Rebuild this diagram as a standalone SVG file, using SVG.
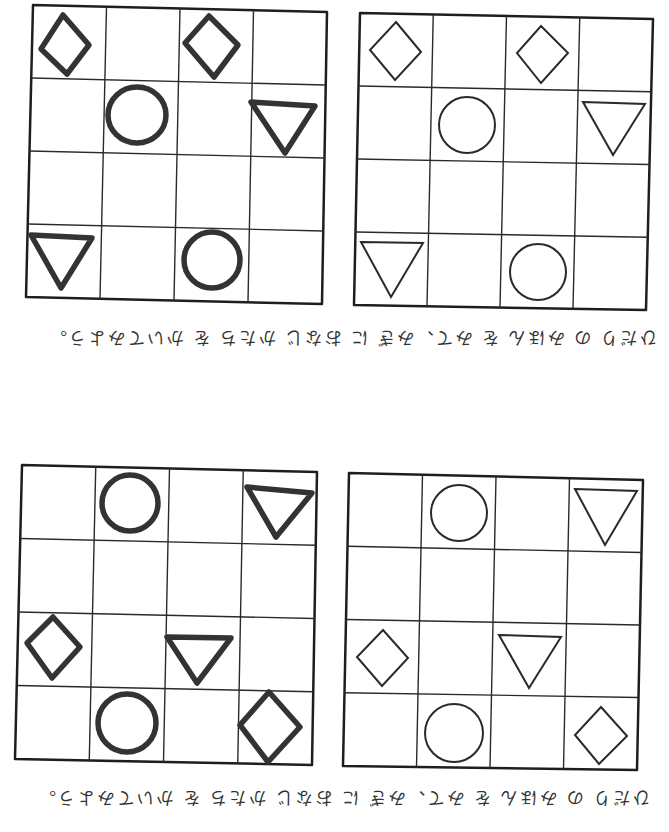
<svg xmlns="http://www.w3.org/2000/svg" width="669" height="832" viewBox="0 0 669 832">
<style>
.frame{fill:none;stroke:#1e1e1e;stroke-width:2.5;stroke-linejoin:round}
.grid{stroke:#2a2a2a;stroke-width:1.4;fill:none}
.bold{fill:none;stroke:#333;stroke-width:5.5;stroke-linejoin:round;stroke-linecap:round}
.thin{fill:none;stroke:#2a2a2a;stroke-width:2;stroke-linejoin:miter}
.cap{font-family:"Noto Sans CJK JP","Noto Sans CJK SC",sans-serif;font-size:17px;fill:#333}
</style>
<rect width="669" height="832" fill="#fff"/>

<g id="grid-top-left">
<polygon class="frame" points="33,5 327,12 322,304 26,297"/>
<g class="grid">
<line x1="106.5" y1="6.75" x2="100" y2="298.75"/>
<line x1="180" y1="8.5" x2="174" y2="300.5"/>
<line x1="253.5" y1="10.25" x2="248" y2="302.25"/>
<line x1="31.25" y1="78" x2="325.75" y2="85"/>
<line x1="29.5" y1="151" x2="324.5" y2="158"/>
<line x1="27.75" y1="224" x2="323.25" y2="231"/>
</g>
<polygon class="bold" points="63,15 89,45 67,74 41,49"/>
<polygon class="bold" points="209,16 238,45 214,77 185,43"/>
<ellipse class="bold" cx="137" cy="115" rx="29" ry="28"/>
<polygon class="bold" points="251,102 315,106 285,153"/>
<polygon class="bold" points="31,235 92,238 61,288"/>
<ellipse class="bold" cx="212" cy="260" rx="28" ry="28"/>
</g>

<g id="grid-top-right">
<polygon class="frame" points="360,13 653,19 646,310 354,305"/>
<g class="grid">
<line x1="433.25" y1="14.5" x2="427" y2="306.25"/>
<line x1="506.5" y1="16" x2="500" y2="307.5"/>
<line x1="579.75" y1="17.5" x2="573" y2="308.75"/>
<line x1="358.5" y1="86" x2="651.25" y2="91.75"/>
<line x1="357" y1="159" x2="649.5" y2="164.5"/>
<line x1="355.5" y1="232" x2="647.75" y2="237.25"/>
</g>
<polygon class="thin" points="396,22 421,52 395,80 370,50"/>
<polygon class="thin" points="541,26 568,53 541,83 517,53"/>
<circle class="thin" cx="467" cy="125" r="28"/>
<polygon class="thin" points="583,102 645,104 613,155"/>
<polygon class="thin" points="361,242 423,243 391,297"/>
<circle class="thin" cx="538" cy="272" r="28"/>
</g>

<g id="caption-1">
<text class="cap" x="353.5" y="339.5" text-anchor="middle" dominant-baseline="central" textLength="607" lengthAdjust="spacing" transform="rotate(180 353.5 339.5)">ひだり の みほん を みて、みぎ に おなじ かたち を かいてみよう。</text>
</g>

<g id="grid-bottom-left">
<polygon class="frame" points="22,465 317,472 312,765 15,759"/>
<g class="grid">
<line x1="95.75" y1="466.75" x2="89.25" y2="760.5"/>
<line x1="169.5" y1="468.5" x2="163.5" y2="762"/>
<line x1="243.25" y1="470.25" x2="237.75" y2="763.5"/>
<line x1="20.25" y1="538.5" x2="315.75" y2="545.25"/>
<line x1="18.5" y1="612" x2="314.5" y2="618.5"/>
<line x1="16.75" y1="685.5" x2="313.25" y2="691.75"/>
</g>
<ellipse class="bold" cx="130" cy="503" rx="28" ry="28"/>
<polygon class="bold" points="247,487 312,493 276,537"/>
<polygon class="bold" points="53,617 80,647 52,678 27,643"/>
<polygon class="bold" points="167,637 231,638 197,683"/>
<ellipse class="bold" cx="127" cy="723" rx="29" ry="29"/>
<polygon class="bold" points="269,692 300,727 268,762 240,725"/>
</g>

<g id="grid-bottom-right">
<polygon class="frame" points="349,473 643,480 637,770 343,766"/>
<g class="grid">
<line x1="422.5" y1="474.75" x2="416.5" y2="767"/>
<line x1="496" y1="476.5" x2="490" y2="768"/>
<line x1="569.5" y1="478.25" x2="563.5" y2="769"/>
<line x1="347.5" y1="546.25" x2="641.5" y2="552.5"/>
<line x1="346" y1="619.5" x2="640" y2="625"/>
<line x1="344.5" y1="692.75" x2="638.5" y2="697.5"/>
</g>
<circle class="thin" cx="459" cy="513" r="28"/>
<polygon class="thin" points="575,489 637,491 605,545"/>
<polygon class="thin" points="383,630 408,658 382,686 357,657"/>
<polygon class="thin" points="499,635 561,637 529,688"/>
<circle class="thin" cx="454" cy="733" r="29"/>
<polygon class="thin" points="601,707 627,736 599,764 575,735"/>
</g>

<g id="caption-2">
<text class="cap" x="344.5" y="799" text-anchor="middle" dominant-baseline="central" textLength="611" lengthAdjust="spacing" transform="rotate(180 344.5 799)">ひだり の みほん を みて、みぎ に おなじ かたち を かいてみよう。</text>
</g>
</svg>
